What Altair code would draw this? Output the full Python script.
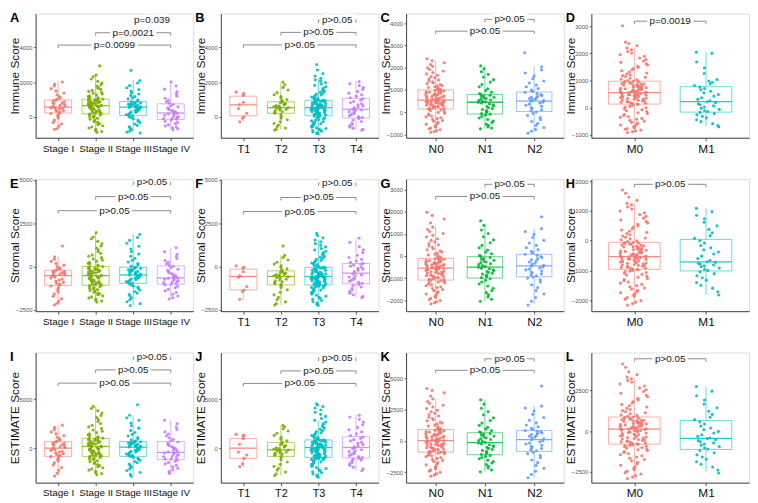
import json
import altair as alt
import pandas as pd

# ---------------- categories & palettes ----------------
STAGE = ["Stage I", "Stage II", "Stage III", "Stage IV"]
TCAT = ["T1", "T2", "T3", "T4"]
NCAT = ["N0", "N1", "N2"]
MCAT = ["M0", "M1"]
PAL4 = ["#F8766D", "#7CAE00", "#00BFC4", "#C77CFF"]
PAL3 = ["#F8766D", "#00BA38", "#619CFF"]
PAL2 = ["#F8766D", "#00BFC4"]

# ---------------- point values (units of 10) ----------------
A_PTS = [
    "-70 -66 -52 -40 -31 -18 -5 8 15 20 24 29 33 38 42 46 50 53 55 57 60 63 67 71 75 80 84 88 93 97 102 110 118 127 138 150 163 178 190 201",
    "-88 -83 -76 -70 -63 -57 -50 -44 -38 -31 -25 -19 -13 -7 -2 3 7 11 14 17 20 23 26 29 32 35 38 41 44 47 50 52 54 57 59 61 63 64 65 66 67 69 71 73 75 77 79 81 83 85 87 89 91 93 95 97 99 100 102 103 106 110 114 118 122 127 132 137 142 147 153 159 165 171 178 186 195 205 218 232 241 294",
    "-92 -87 -80 -72 -64 -56 -48 -40 -32 -24 -17 -10 -4 2 7 10 14 18 22 26 30 34 38 42 45 48 51 53 55 57 58 60 62 64 66 68 70 72 74 76 78 80 83 86 89 93 98 104 110 117 124 132 140 149 158 168 180 195 209 268",
    "-73 -68 -62 -57 -51 -45 -38 -31 -24 -17 -12 -9 -6 -2 2 6 10 14 18 22 26 30 34 38 43 48 53 59 65 72 79 88 97 108 120 133 146 160 178 202",
]
B_PTS = [
    "-27 -6 0 22 48 72 85 125 135 143",
    "-75 -70 -63 -55 -46 -37 -27 -16 -6 4 14 22 27 32 36 40 44 48 51 54 57 60 63 66 70 74 78 82 86 89 94 101 109 118 128 140 155 170 185 201",
    "-97 -94 -90 -86 -82 -78 -74 -70 -66 -62 -58 -54 -50 -46 -42 -38 -34 -30 -26 -22 -18 -14 -10 -6 -2 2 6 8 10 12 14 16 18 20 22 24 26 28 30 32 34 35 37 39 40 42 43 45 46 48 49 51 52 53 54 55 57 58 60 61 63 64 66 67 69 70 72 73 75 76 78 79 81 82 84 85 87 88 90 91 93 94 96 98 101 104 107 111 115 119 123 127 132 137 142 148 154 160 167 174 182 190 198 206 214 222 235 250 270 302",
    "-75 -70 -64 -58 -51 -43 -35 -26 -17 -8 -3 2 8 14 20 26 31 36 40 44 48 53 58 64 70 76 82 89 96 104 111 119 128 137 147 158 169 180 192 204",
]
C_PTS = [
    "-90 -87 -83 -79 -75 -71 -67 -62 -58 -54 -50 -46 -41 -37 -33 -29 -25 -21 -17 -13 -9 -5 -1 3 7 10 13 15 17 19 21 23 25 26 28 30 31 33 34 36 37 39 40 42 43 44 45 47 48 49 50 51 52 53 54 55 57 59 60 62 64 65 67 69 70 72 74 75 77 79 80 82 84 85 87 89 90 92 94 95 97 98 100 102 105 108 111 114 117 120 124 128 132 136 140 145 150 155 160 166 172 178 185 192 199 206 214 222 231 240",
    "-75 -71 -66 -60 -54 -47 -40 -33 -26 -19 -13 -9 -6 -2 3 7 12 16 20 25 29 33 37 41 44 46 49 52 55 58 61 64 67 70 73 76 79 84 90 97 105 114 124 135 146 158 170 182 195 208",
    "-95 -86 -78 -69 -60 -51 -42 -33 -24 -15 -6 1 6 11 16 21 26 31 36 41 45 49 52 55 58 61 64 67 71 75 79 84 89 93 99 106 114 122 131 140 150 162 176 190 204 267",
]
D_PTS = [
    "-91 -88 -85 -82 -79 -76 -73 -70 -66 -63 -60 -56 -53 -49 -46 -42 -39 -35 -32 -28 -25 -21 -18 -14 -11 -7 -4 0 3 6 9 12 14 16 17 19 20 22 23 25 26 28 29 31 32 34 35 37 38 40 41 42 44 45 46 47 48 49 50 51 52 53 54 55 56 57 58 59 60 62 63 64 65 67 68 69 70 72 73 74 75 77 78 79 80 82 83 84 85 87 88 89 90 92 93 95 96 98 100 103 106 109 112 115 118 121 124 128 132 136 140 144 148 152 157 162 167 172 177 183 189 195 201 207 213 220 228 236 241 301",
    "-70 -65 -58 -51 -44 -37 -31 -26 -21 -17 -14 -10 -6 -2 3 7 11 15 19 22 26 31 37 43 49 55 61 66 71 76 82 88 94 98 104 126 147 168 200 204",
]
E_PTS = [
    "-221 -212 -200 -186 -172 -158 -145 -133 -122 -112 -106 -101 -96 -90 -84 -78 -72 -66 -60 -54 -50 -47 -44 -41 -38 -35 -32 -29 -26 -22 -18 -13 -7 0 8 18 30 42 56 118",
    "-205 -199 -193 -187 -181 -175 -169 -163 -158 -153 -148 -143 -138 -133 -129 -125 -121 -117 -113 -110 -107 -104 -101 -98 -95 -92 -89 -86 -83 -80 -77 -74 -71 -68 -65 -62 -59 -57 -55 -53 -50 -47 -45 -42 -40 -37 -35 -32 -30 -27 -25 -22 -20 -17 -15 -12 -9 -6 -3 0 4 9 14 19 25 31 37 44 51 59 67 76 85 95 106 118 131 145 160 170 196",
    "-225 -214 -203 -192 -182 -172 -162 -153 -144 -135 -127 -119 -112 -106 -100 -95 -91 -87 -83 -79 -75 -71 -68 -65 -62 -59 -56 -53 -51 -49 -46 -43 -40 -37 -34 -31 -28 -25 -22 -19 -16 -13 -10 -7 -4 2 9 17 26 36 47 59 72 86 101 117 134 151 168 186",
    "-188 -180 -170 -160 -150 -140 -131 -122 -114 -106 -101 -97 -93 -89 -85 -81 -77 -74 -71 -68 -64 -59 -53 -47 -41 -35 -29 -22 -15 -7 0 8 16 25 35 46 58 71 86 108",
]
F_PTS = [
    "-189 -144 -135 -115 -62 -54 -30 -10 -4 4",
    "-222 -214 -204 -192 -178 -163 -148 -134 -120 -109 -103 -98 -93 -88 -83 -78 -73 -68 -63 -59 -56 -53 -50 -47 -44 -41 -38 -34 -30 -26 -20 -13 -5 4 14 25 38 52 64 119",
    "-224 -217 -210 -203 -196 -189 -183 -177 -171 -165 -159 -154 -149 -144 -139 -135 -131 -127 -123 -120 -117 -114 -112 -110 -108 -107 -106 -104 -102 -100 -98 -96 -94 -92 -90 -88 -86 -84 -82 -80 -78 -76 -74 -72 -70 -69 -67 -66 -64 -63 -62 -61 -60 -59 -58 -56 -54 -52 -50 -48 -46 -44 -42 -40 -38 -36 -34 -32 -30 -28 -26 -24 -22 -20 -18 -16 -14 -12 -10 -8 -7 -6 -4 -1 3 7 11 15 20 25 30 35 41 47 53 59 66 73 80 88 96 104 113 122 132 142 153 165 178 192",
    "-180 -172 -163 -154 -145 -136 -127 -118 -110 -103 -97 -91 -85 -79 -73 -67 -61 -55 -49 -43 -36 -29 -22 -16 -10 -4 2 8 13 18 24 32 41 52 65 80 97 115 140 164",
]
G_PTS = [
    "-217 -212 -207 -202 -197 -192 -187 -182 -177 -172 -167 -162 -157 -152 -147 -143 -139 -135 -131 -127 -124 -121 -118 -115 -113 -111 -109 -107 -105 -103 -101 -99 -97 -95 -93 -91 -89 -87 -85 -83 -81 -79 -77 -75 -73 -71 -69 -67 -65 -63 -61 -59 -58 -57 -55 -54 -52 -51 -49 -48 -46 -45 -43 -42 -40 -39 -37 -36 -34 -33 -31 -30 -28 -27 -25 -23 -21 -19 -17 -15 -13 -12 -10 -7 -3 1 5 9 13 18 23 28 33 39 45 51 57 64 71 78 86 94 102 111 120 131 150 168 184 198",
    "-205 -196 -186 -176 -166 -156 -146 -136 -127 -118 -110 -103 -98 -94 -90 -86 -82 -78 -74 -70 -66 -62 -58 -55 -51 -47 -43 -39 -35 -31 -27 -23 -19 -15 -11 -7 -3 3 10 18 27 37 48 60 73 87 102 118 139 160",
    "-222 -205 -188 -172 -157 -143 -130 -118 -108 -100 -95 -90 -86 -81 -77 -72 -68 -63 -59 -54 -50 -46 -42 -37 -32 -27 -22 -17 -12 -7 -2 3 8 14 21 29 38 48 59 71 84 98 111 124 178",
]
H_PTS = [
    "-217 -212 -207 -202 -197 -192 -187 -183 -179 -175 -171 -167 -163 -159 -155 -151 -147 -143 -139 -135 -131 -127 -123 -119 -116 -113 -110 -107 -104 -102 -100 -98 -96 -95 -93 -92 -90 -89 -87 -86 -84 -83 -81 -80 -78 -77 -75 -74 -72 -71 -69 -68 -66 -65 -63 -62 -61 -60 -59 -58 -57 -56 -55 -54 -54 -53 -51 -50 -48 -47 -45 -44 -42 -41 -39 -38 -36 -35 -33 -32 -30 -29 -27 -26 -24 -23 -21 -20 -18 -17 -15 -14 -12 -11 -9 -8 -7 -6 -3 0 3 6 9 12 16 20 24 28 32 36 40 45 50 55 60 65 70 76 82 88 94 100 107 114 121 126 136 147 160 171",
    "-183 -172 -160 -150 -141 -133 -125 -118 -111 -105 -100 -96 -92 -88 -85 -82 -79 -76 -73 -71 -67 -60 -52 -45 -38 -31 -24 -16 -8 0 8 17 27 38 50 62 74 86 98 109",
]
I_PTS = [
    "-285 -255 -225 -198 -173 -150 -130 -113 -98 -87 -80 -72 -64 -56 -48 -40 -32 -24 -16 -8 0 7 14 21 28 35 42 49 56 64 73 84 97 112 128 146 166 188 212 235",
    "-272 -260 -248 -236 -224 -212 -200 -189 -178 -167 -157 -147 -137 -128 -119 -111 -103 -96 -90 -85 -80 -74 -69 -64 -59 -54 -48 -43 -38 -33 -28 -23 -18 -13 -8 -3 2 7 12 16 21 25 30 34 39 43 48 52 57 61 66 70 75 79 84 88 92 96 99 102 109 117 126 136 147 159 172 186 201 217 234 252 271 291 312 334 358 383 405 426",
    "-288 -268 -248 -229 -211 -194 -178 -163 -149 -136 -124 -113 -103 -94 -86 -79 -72 -65 -58 -51 -44 -38 -31 -25 -19 -13 -7 -1 4 9 13 17 21 25 29 33 37 41 45 49 53 57 61 64 67 75 85 96 109 124 141 160 181 204 229 256 285 310 336 443",
    "-258 -240 -222 -205 -190 -175 -160 -146 -133 -121 -113 -105 -97 -89 -81 -73 -65 -57 -50 -45 -38 -27 -16 -5 6 17 28 39 50 63 75 90 106 124 144 166 190 216 250 285",
]
J_PTS = [
    "-188 -160 -104 -70 -40 40 97 120 134 141",
    "-280 -262 -243 -224 -205 -186 -166 -142 -118 -95 -80 -73 -66 -59 -52 -45 -38 -31 -25 -19 -14 -8 -2 4 11 18 26 34 42 52 63 76 92 110 130 152 175 198 218 232",
    "-296 -285 -274 -263 -252 -241 -230 -219 -208 -197 -186 -176 -166 -157 -148 -140 -132 -125 -119 -114 -109 -105 -102 -99 -97 -95 -94 -92 -88 -84 -80 -76 -72 -68 -64 -60 -56 -52 -48 -44 -40 -36 -32 -28 -24 -21 -18 -15 -12 -9 -6 -3 0 3 6 9 12 15 18 21 24 27 30 33 36 39 42 45 48 51 54 57 60 63 66 68 70 72 74 77 79 81 84 90 97 104 112 120 129 138 148 158 169 180 192 205 219 234 250 267 285 304 324 345 367 390 410 425 440 452",
    "-230 -212 -194 -177 -161 -146 -133 -121 -111 -103 -96 -86 -76 -66 -56 -46 -36 -26 -16 -5 4 14 25 37 49 61 74 87 100 114 128 146 166 188 212 238 266 294 318 336",
]
K_PTS = [
    "-282 -272 -262 -252 -242 -232 -222 -212 -202 -192 -183 -174 -165 -156 -148 -140 -133 -126 -119 -113 -108 -103 -99 -96 -93 -91 -90 -86 -83 -79 -76 -72 -69 -65 -62 -58 -55 -51 -48 -44 -41 -37 -34 -30 -27 -23 -20 -16 -13 -10 -7 -4 -1 1 3 6 9 12 15 18 21 24 27 30 34 37 40 43 46 49 53 56 59 62 65 68 72 75 78 81 85 88 92 98 105 112 119 127 135 143 152 161 170 180 190 200 211 222 234 246 259 272 286 300 315 337 360 385 405 420",
    "-247 -232 -217 -203 -190 -177 -165 -154 -143 -133 -124 -116 -108 -100 -92 -84 -76 -68 -60 -52 -45 -38 -31 -24 -16 -10 -3 4 11 18 25 32 39 46 53 59 65 73 83 95 109 125 143 163 185 209 235 262 295 329",
    "-295 -268 -243 -219 -196 -174 -153 -134 -117 -102 -90 -79 -70 -61 -52 -43 -34 -25 -16 -7 2 10 17 24 31 38 45 52 59 66 72 78 84 92 102 114 128 145 165 188 213 240 264 279 440",
]
L_PTS = [
    "-290 -281 -272 -263 -254 -245 -236 -227 -218 -209 -200 -191 -182 -174 -166 -158 -151 -144 -137 -131 -125 -119 -114 -109 -104 -100 -96 -92 -89 -86 -83 -81 -78 -75 -72 -69 -66 -63 -60 -57 -54 -51 -48 -45 -42 -39 -36 -33 -30 -27 -24 -21 -18 -15 -12 -9 -6 -3 0 2 4 6 8 10 12 14 16 18 20 22 24 27 29 31 33 35 38 40 42 44 46 49 51 53 55 57 60 62 64 66 68 71 73 75 77 80 83 86 90 95 100 106 112 118 125 132 139 147 155 163 172 181 190 200 210 220 231 242 253 264 276 288 300 310 320 330 345 362 390 410",
    "-256 -238 -220 -203 -187 -172 -158 -145 -132 -119 -110 -102 -94 -86 -79 -72 -65 -58 -52 -46 -42 -32 -22 -12 -2 8 19 31 43 56 70 85 102 121 142 165 190 216 244 272",
]

# ---------------- box statistics: [lower whisker, Q1, median, Q3, upper whisker] ----------------
A_BOX = [[-660, 230, 570, 975, 2050], [-830, 180, 655, 1030, 2440], [-885, 90, 570, 885, 2130], [-710, -140, 230, 760, 2000]]
B_BOX = [[-270, 70, 700, 1195, 1460], [-730, 215, 535, 875, 2000], [-945, 70, 535, 965, 2200], [-730, -55, 445, 1070, 2050]]
C_BOX = [[-875, 140, 540, 1000, 2320], [-735, -85, 445, 790, 2080], [-875, 30, 500, 905, 2040]]
D_BOX = [[-875, 135, 555, 975, 2215], [-680, -160, 225, 775, 2045]]
E_BOX = [[-2210, -1085, -525, -215, 600], [-2015, -1085, -525, 0, 1960], [-2250, -970, -485, -40, 1860], [-1880, -1025, -660, 40, 1085]]
F_BOX = [[-1920, -1345, -575, -155, 60], [-2210, -1060, -575, -250, 635], [-2210, -1060, -575, -40, 1500], [-1790, -1000, -385, 175, 1635]]
G_BOX = [[-2165, -1090, -550, -105, 1315], [-2045, -1000, -505, -30, 1390], [-2195, -940, -450, 75, 1240]]
H_BOX = [[-2145, -965, -540, -55, 1260], [-1830, -1020, -710, 45, 1090]]
I_BOX = [[-2850, -840, 0, 670, 2350], [-2685, -840, 170, 1005, 4260], [-2850, -840, 100, 670, 3355], [-2585, -1175, -435, 670, 2850]]
J_BOX = [[-1945, -1040, 0, 975, 1410], [-2785, -840, -170, 570, 2315], [-2955, -940, 65, 840, 2750], [-2280, -1005, 65, 1175, 3355]]
K_BOX = [[-2815, -895, 25, 920, 3370], [-2475, -1105, -130, 660, 3290], [-2945, -840, 105, 840, 2790]]
L_BOX = [[-2880, -800, 120, 860, 3200], [-2480, -1120, -440, 640, 2720]]

# ---------------- significance brackets: (from group, to group, height, label) ----------------
NS = "p>0.05"
A_BRK = [(1, 4, 4130, "p=0.0099"), (2, 4, 4840, "p=0.0021"), (3, 4, 5550, "p=0.039")]
B_BRK = [(1, 4, 4140, NS), (2, 4, 4860, NS), (3, 4, 5570, NS)]
C_BRK = [(1, 3, 3640, NS), (2, 3, 4170, NS)]
D_BRK = [(1, 2, 3180, "p=0.0019")]
E_BRK = [(1, 4, 3220, NS), (2, 4, 4030, NS), (3, 4, 4860, NS)]
F_BRK = [(1, 4, 3170, NS), (2, 4, 3980, NS), (3, 4, 4810, NS)]
G_BRK = [(1, 3, 2700, NS), (2, 3, 3250, NS)]
H_BRK = [(1, 2, 1900, NS)]
I_BRK = [(1, 4, 6640, NS), (2, 4, 7990, NS), (3, 4, 9300, NS)]
J_BRK = [(1, 4, 6610, NS), (2, 4, 7890, NS), (3, 4, 9200, NS)]
K_BRK = [(1, 3, 5660, NS), (2, 3, 6580, NS)]
L_BRK = [(1, 2, 4420, NS)]

# ---------------- axis domains & ticks ----------------
A_DOM, A_TICKS = [-1190, 5940], [0, 2000, 4000]
B_DOM, B_TICKS = [-1190, 5940], [0, 2000, 4000]
C_DOM, C_TICKS = [-1150, 4430], [-1000, 0, 1000, 2000, 3000, 4000]
D_DOM, D_TICKS = [-1100, 3460], [-1000, 0, 1000, 2000, 3000]
E_DOM, E_TICKS = [-2575, 5040], [-2500, 0, 2500, 5000]
F_DOM, F_TICKS = [-2575, 5040], [-2500, 0, 2500, 5000]
G_DOM, G_TICKS = [-2500, 3485], [-2000, -1000, 0, 1000, 2000, 3000]
H_DOM, H_TICKS = [-2375, 2075], [-2000, -1000, 0, 1000, 2000]
I_DOM, I_TICKS = [-3520, 9760], [0, 5000]
J_DOM, J_TICKS = [-3520, 9760], [0, 5000]
K_DOM, K_TICKS = [-3340, 7080], [-2500, 0, 2500, 5000]
L_DOM, L_TICKS = [-3150, 4800], [-2500, 0, 2500]

W = 160
BW = 0.36
FONT = "Liberation Sans"
XFONT = {"Stage I": 10, "T1": 11, "N0": 12, "M0": 12}


def panel(letter, cats, pal, pts, box, brk, dom, ticks, ytitle, h):
    n = len(cats)
    rows = []
    for k, s in enumerate(pts):
        for v in s.split():
            rows.append({"idx": k + 1, "v": int(v) * 10, "col": pal[k]})
    pdf = pd.DataFrame(rows)
    bdf = pd.DataFrame([
        {"idx": k + 1, "lo": b[0], "q1": b[1], "med": b[2], "q3": b[3], "hi": b[4], "col": pal[k]}
        for k, b in enumerate(box)
    ])
    kdf = pd.DataFrame([{"a": a, "b": b, "y": y, "lab": lab} for a, b, y, lab in brk])

    xs = alt.Scale(domain=[0.4, n + 0.6], nice=False, zero=False)
    ys = alt.Scale(domain=dom, nice=False, zero=False)
    xax = alt.Axis(values=list(range(1, n + 1)), labelExpr=json.dumps(cats) + "[datum.value-1]",
                   title=None, grid=False, labelFontSize=XFONT[cats[0]], labelColor="#111111", tickSize=3,
                   tickColor="#555555", domainColor="#444444", labelPadding=2.5, labelFlush=False,
                   labelOverlap=False, labelFont=FONT)
    yax = alt.Axis(values=ticks, title=ytitle, grid=False, labelFontSize=6, labelColor="#555555",
                   tickSize=2, tickColor="#555555", domainColor="#444444", labelPadding=1.5,
                   format="d", titleFontSize=12, titleFontWeight="normal", titleColor="#111111",
                   titleX=-21, titleY=h / 2, titleBaseline="middle", titleFont=FONT, labelFont=FONT)

    def X(f):
        return alt.X(f, scale=xs, axis=xax)

    def Y(f):
        return alt.Y(f, scale=ys, axis=yax)

    colr = alt.Color("col:N", scale=None)
    bb = alt.Chart(bdf).transform_calculate(xl=f"datum.idx-{BW}", xr=f"datum.idx+{BW}")
    boxes = bb.mark_rect(fill="white", fillOpacity=0, strokeOpacity=0.6, strokeWidth=1).encode(
        x=X("xl:Q"), x2="xr:Q", y=Y("q1:Q"), y2="q3:Q", stroke=alt.Stroke("col:N", scale=None))
    wlo = bb.mark_rule(strokeOpacity=0.6).encode(x=X("idx:Q"), y=Y("lo:Q"), y2="q1:Q", color=colr)
    whi = bb.mark_rule(strokeOpacity=0.6).encode(x=X("idx:Q"), y=Y("q3:Q"), y2="hi:Q", color=colr)
    med = bb.mark_rule(strokeWidth=1.3, strokeOpacity=0.85).encode(x=X("xl:Q"), x2="xr:Q", y=Y("med:Q"), color=colr)

    points = alt.Chart(pdf).transform_window(i="row_number()").transform_calculate(
        xj="datum.idx + ((abs(sin(datum.i*12.9898 + datum.idx*78.233)*43758.5453) % 1) - 0.5)*0.4"
    ).mark_circle(size=10, opacity=0.9).encode(x=X("xj:Q"), y=Y("v:Q"), color=colr)

    kb = alt.Chart(kdf).transform_calculate(mid="(datum.a+datum.b)/2")
    gray = "#8a8a8a"
    hline = kb.mark_rule(color=gray, strokeWidth=1).encode(x=X("a:Q"), x2="b:Q", y=Y("y:Q"))
    ldrop = kb.mark_rule(color=gray, strokeWidth=1, y2Offset=3).encode(x=X("a:Q"), y=Y("y:Q"), y2="y:Q")
    rdrop = kb.mark_rule(color=gray, strokeWidth=1, y2Offset=3).encode(x=X("b:Q"), y=Y("y:Q"), y2="y:Q")
    halo = kb.mark_text(fontSize=10, font=FONT, color="white", stroke="white", strokeWidth=6,
                        baseline="middle").encode(x=X("mid:Q"), y=Y("y:Q"), text="lab:N")
    txt = kb.mark_text(fontSize=10, font=FONT, color="#222222", baseline="middle").encode(
        x=X("mid:Q"), y=Y("y:Q"), text="lab:N")

    lett = alt.Chart(pd.DataFrame({"t": [letter]})).mark_text(
        align="left", baseline="alphabetic", fontSize=13, fontWeight="bold", font=FONT, color="black"
    ).encode(x=alt.value(-26), y=alt.value(9), text="t:N")

    return alt.layer(boxes, wlo, whi, med, points, hline, ldrop, rdrop, halo, txt, lett).properties(
        width=W, height=h)


H1, H2, H3 = 126, 134, 132
panels = [
    panel("A", STAGE, PAL4, A_PTS, A_BOX, A_BRK, A_DOM, A_TICKS, "Immune Score", H1),
    panel("B", TCAT, PAL4, B_PTS, B_BOX, B_BRK, B_DOM, B_TICKS, "Immune Score", H1),
    panel("C", NCAT, PAL3, C_PTS, C_BOX, C_BRK, C_DOM, C_TICKS, "Immune Score", H1),
    panel("D", MCAT, PAL2, D_PTS, D_BOX, D_BRK, D_DOM, D_TICKS, "Immune Score", H1),
    panel("E", STAGE, PAL4, E_PTS, E_BOX, E_BRK, E_DOM, E_TICKS, "Stromal Score", H2),
    panel("F", TCAT, PAL4, F_PTS, F_BOX, F_BRK, F_DOM, F_TICKS, "Stromal Score", H2),
    panel("G", NCAT, PAL3, G_PTS, G_BOX, G_BRK, G_DOM, G_TICKS, "Stromal Score", H2),
    panel("H", MCAT, PAL2, H_PTS, H_BOX, H_BRK, H_DOM, H_TICKS, "Stromal Score", H2),
    panel("I", STAGE, PAL4, I_PTS, I_BOX, I_BRK, I_DOM, I_TICKS, "ESTIMATE Score", H3),
    panel("J", TCAT, PAL4, J_PTS, J_BOX, J_BRK, J_DOM, J_TICKS, "ESTIMATE Score", H3),
    panel("K", NCAT, PAL3, K_PTS, K_BOX, K_BRK, K_DOM, K_TICKS, "ESTIMATE Score", H3),
    panel("L", MCAT, PAL2, L_PTS, L_BOX, L_BRK, L_DOM, L_TICKS, "ESTIMATE Score", H3),
]

chart = alt.concat(*panels, columns=4, spacing={"row": 42, "column": 28}, bounds="flush",
                   align="each").properties(
    padding={"left": 0, "top": 0, "right": 0, "bottom": 0}, background="white"
).configure_view(stroke=None).configure(font=FONT)

chart.save("out.html", embed_options={"renderer": "svg", "actions": False})
